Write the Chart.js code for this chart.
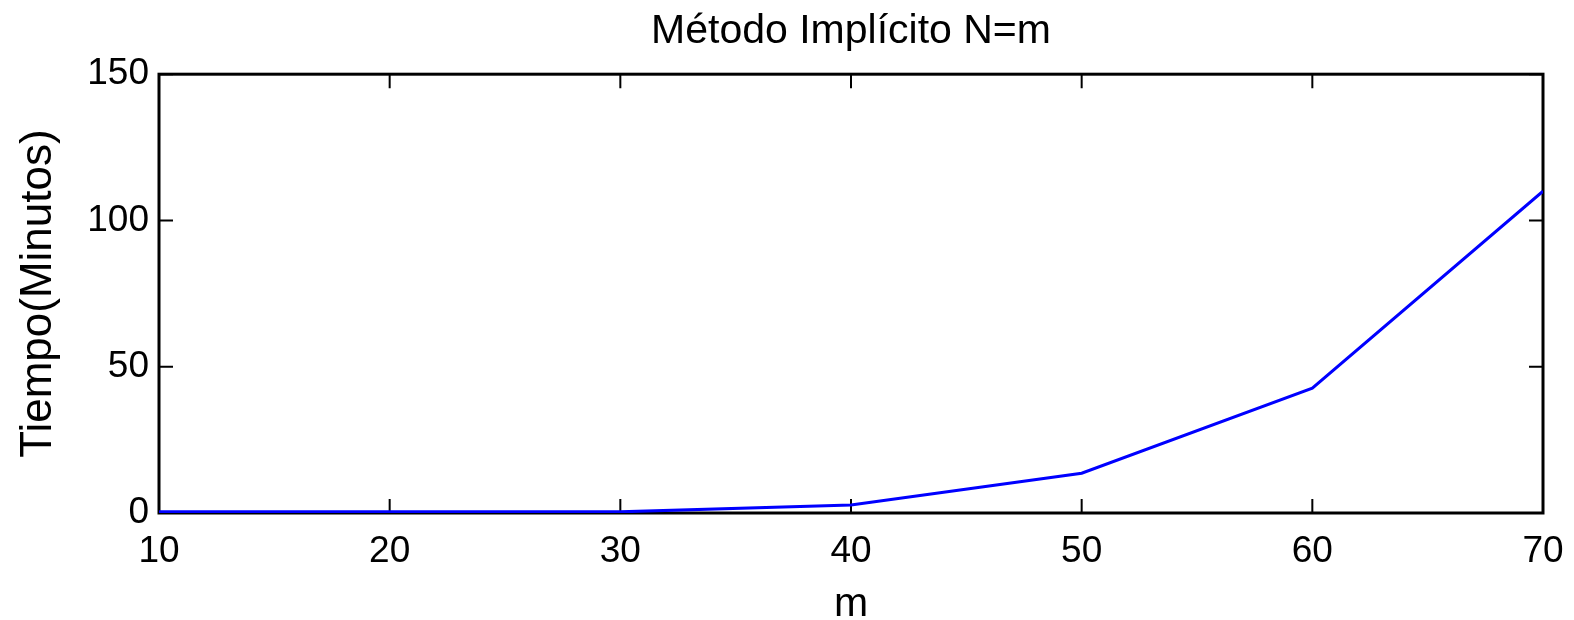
<!DOCTYPE html>
<html>
<head>
<meta charset="utf-8">
<script src="https://cdn.jsdelivr.net/npm/chart.js@4.4.0/dist/chart.umd.min.js"></script>
<style>
html,body{margin:0;padding:0;background:#fff;}
#wrap{width:1574px;height:620px;position:relative;}
</style>
</head>
<body>
<div id="wrap"><canvas id="c" width="1574" height="620"></canvas></div>
<script>
const mValues = [10, 20, 30, 40, 50, 60, 70];
const tiempoMinutos = [0.4, 0.4, 0.4, 2.7, 13.6, 42.7, 110];
const xTicks = [10, 20, 30, 40, 50, 60, 70];
const yTicks = [0, 50, 100, 150];
const chartTitle = 'Método Implícito N=m';
const xTitle = 'm';
const yTitle = 'Tiempo(Minutos)';

const FONT = '"Liberation Sans", Arial, Helvetica, sans-serif';

const framePlugin = {
  id: 'frame',
  beforeDatasetsDraw(chart) {
    const {ctx, chartArea: a, scales} = chart;
    ctx.save();
    ctx.strokeStyle = '#000';
    ctx.lineWidth = 3;
    ctx.strokeRect(a.left, a.top, a.right - a.left, a.bottom - a.top);
    const L = 14;
    ctx.lineWidth = 2;
    ctx.beginPath();
    scales.x.ticks.forEach((t, i) => {
      const x = scales.x.getPixelForTick(i);
      ctx.moveTo(x, a.bottom); ctx.lineTo(x, a.bottom - L);
      ctx.moveTo(x, a.top); ctx.lineTo(x, a.top + L);
    });
    scales.y.ticks.forEach((t, i) => {
      const y = scales.y.getPixelForTick(i);
      ctx.moveTo(a.left, y); ctx.lineTo(a.left + L, y);
      ctx.moveTo(a.right, y); ctx.lineTo(a.right - L, y);
    });
    ctx.stroke();
    ctx.restore();
  }
};

new Chart(document.getElementById('c'), {
  type: 'line',
  data: {
    datasets: [{
      data: mValues.map((m, i) => ({x: m, y: tiempoMinutos[i]})),
      borderColor: '#0000FF',
      borderWidth: 3,
      pointRadius: 0,
      tension: 0,
      fill: false
    }]
  },
  options: {
    responsive: false,
    animation: false,
    devicePixelRatio: 1,
    layout: {padding: {left: 0, right: 31, top: 0, bottom: 0}},
    plugins: {
      legend: {display: false},
      tooltip: {enabled: false},
      title: {
        display: true,
        fullSize: false,
        text: chartTitle,
        color: '#000',
        font: {family: FONT, size: 41, weight: 'normal', lineHeight: 1.2},
        padding: {top: 7, bottom: 18}
      }
    },
    scales: {
      x: {
        type: 'linear',
        min: 10, max: 70,
        afterBuildTicks(scale) { scale.ticks = xTicks.map(v => ({value: v})); },
        afterFit(scale) { scale.height = 107; scale.paddingLeft = 0; scale.paddingRight = 0; },
        grid: {display: false, drawTicks: false},
        border: {display: false},
        ticks: {color: '#000', font: {family: FONT, size: 37}, padding: 17, maxRotation: 0},
        title: {display: true, text: xTitle, color: '#000', font: {family: FONT, size: 41}, padding: {top: 0, bottom: -9}}
      },
      y: {
        type: 'linear',
        min: 0, max: 150,
        afterBuildTicks(scale) { scale.ticks = yTicks.map(v => ({value: v})); },
        afterFit(scale) { scale.width = 159; scale.paddingTop = 0; scale.paddingBottom = 0; },
        grid: {display: false, drawTicks: false},
        border: {display: false},
        ticks: {color: '#000', font: {family: FONT, size: 37}, padding: 10},
        title: {display: true, text: yTitle, color: '#000', font: {family: FONT, size: 44}, padding: {top: 12, bottom: 0}}
      }
    }
  },
  plugins: [framePlugin]
});
</script>
</body>
</html>
